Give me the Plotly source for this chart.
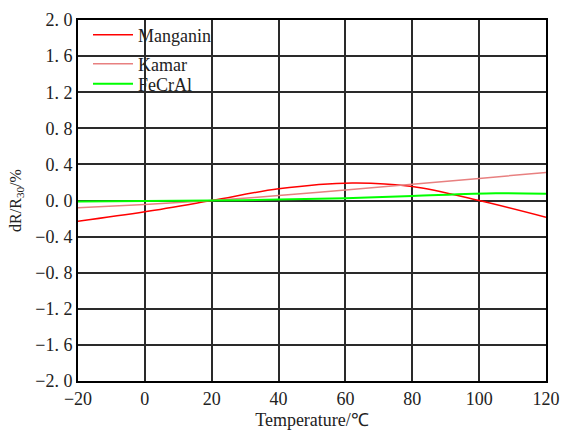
import plotly.graph_objects as go

temps = [-20, 0, 20, 40, 60, 80, 100, 120]
manganin_t = [-20, 0, 20, 40, 62, 80, 100, 120]
manganin = [-0.23, -0.125, 0.0, 0.13, 0.195, 0.155, 0.0, -0.185]
kamar = [-0.08, -0.045, 0.0, 0.055, 0.115, 0.18, 0.245, 0.31]
fecral_t = [-20, 0, 20, 40, 60, 80, 105, 120]
fecral = [-0.01, -0.005, 0.0, 0.01, 0.025, 0.05, 0.08, 0.075]

y_ticks = [-2.0, -1.6, -1.2, -0.8, -0.4, 0.0, 0.4, 0.8, 1.2, 1.6, 2.0]
x_ticks = [-20, 0, 20, 40, 60, 80, 100, 120]

FONT = "Liberation Serif"

fig = go.Figure()
fig.add_trace(go.Scatter(x=manganin_t, y=manganin, mode="lines", name="Manganin",
                         line=dict(color="#ff0000", width=1.5, shape="spline"), legend="legend"))
fig.add_trace(go.Scatter(x=temps, y=kamar, mode="lines", name="Kamar",
                         line=dict(color="#e88080", width=1.5, shape="spline"), legend="legend2"))
fig.add_trace(go.Scatter(x=fecral_t, y=fecral, mode="lines", name="FeCrAl",
                         line=dict(color="#00ff00", width=2, shape="spline"), legend="legend3"))

axis_common = dict(showgrid=True, gridcolor="#2a2a2a", gridwidth=1.5, zeroline=False,
                   showline=True, linecolor="#000000", linewidth=2, mirror=True,
                   automargin=False,
                   ticks="", tickfont=dict(family=FONT, size=18, color="#222"))

fig.update_xaxes(range=[-20, 120], tickvals=x_ticks, ticktext=[str(v).replace("-", "−") for v in x_ticks],
                 title=dict(text="Temperature/℃", font=dict(family=FONT, size=18, color="#222"), standoff=8),
                 **axis_common)
fig.update_yaxes(range=[-2.0, 2.0], tickvals=y_ticks, ticktext=[f"{v:.1f}".replace("-", "−").replace(".", ". ") for v in y_ticks],
                 title=dict(text="dR/R<sub>30</sub>/%", font=dict(family=FONT, size=16, color="#222"), standoff=10),
                 **axis_common)

legend_common = dict(bgcolor="rgba(255,255,255,0)", borderwidth=0, font=dict(family=FONT, size=18, color="#222"),
                     xanchor="left", yanchor="middle", itemwidth=40, tracegroupgap=0)
lx = 10 / 468
fig.update_layout(
    width=564, height=430,
    margin=dict(l=78, r=18, t=20, b=49),
    plot_bgcolor="white", paper_bgcolor="white",
    showlegend=True,
    legend=dict(x=lx, y=(381 - 35) / 361, **legend_common),
    legend2=dict(x=lx, y=(381 - 64) / 361, **legend_common),
    legend3=dict(x=lx, y=(381 - 84) / 361, **legend_common),
)

fig.write_html("out.html", config={"displayModeBar": False},
               post_script="document.body.style.margin='0';document.body.style.overflow='hidden';")
